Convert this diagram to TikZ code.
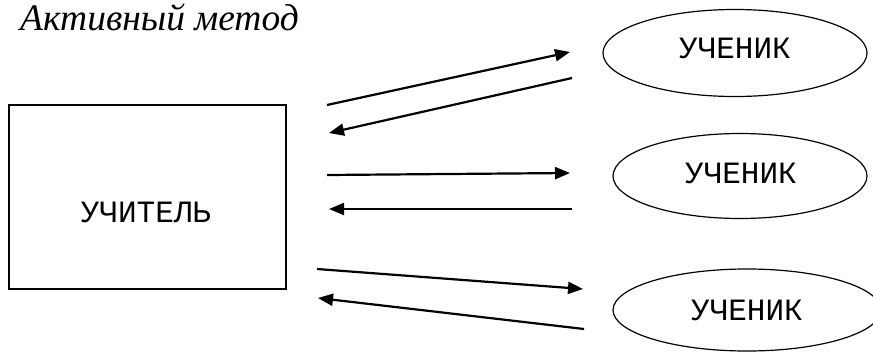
\documentclass[tikz,border=0pt]{standalone}
\usepackage{fontspec}
\setmainfont{Liberation Serif}
\newfontfamily\monofont{Liberation Mono}
\usetikzlibrary{shapes.geometric,arrows.meta}
\tikzset{
  teacher/.style={draw, line width=1.8pt, minimum width=277pt, minimum height=184pt, inner sep=0pt},
  pupil/.style={draw, ellipse, line width=1.2pt, inner sep=0pt},
  label/.style={font=\monofont\fontsize{31}{31}\selectfont, inner sep=0pt},
  link/.style={line width=2.2pt, -{Triangle[length=15pt,width=12pt]}},
  heading/.style={font=\itshape\fontsize{37.5}{37.5}\selectfont, anchor=base west, inner sep=0pt}
}
\begin{document}
\begin{tikzpicture}[x=1pt,y=-1pt]
\useasboundingbox (0,0) rectangle (873,351);
\clip (0,0) rectangle (873,351);
\node[heading] (title) at (20,30) {Активный метод};
\node[teacher] (t) at (147.5,197) {};
\node[label] (tl) at (146,212) {УЧИТЕЛЬ};
\node[pupil, minimum width=264pt, minimum height=87pt] (p1) at (735,53) {};
\node[label] (p1t) at (735,48) {УЧЕНИК};
\node[pupil, minimum width=254pt, minimum height=85pt] (p2) at (740,176) {};
\node[label] (p2t) at (741,173) {УЧЕНИК};
\node[pupil, minimum width=268pt, minimum height=82pt] (p3) at (747,310) {};
\node[label] (p3t) at (747,310) {УЧЕНИК};
\coordinate (a1s) at (327,105); \coordinate (a1e) at (570,52);
\coordinate (a2s) at (572,78);  \coordinate (a2e) at (329,133);
\coordinate (a3s) at (327,175); \coordinate (a3e) at (570,173);
\coordinate (a4s) at (572,209); \coordinate (a4e) at (329,209);
\coordinate (a5s) at (317,269); \coordinate (a5e) at (583,289);
\coordinate (a6s) at (584,329); \coordinate (a6e) at (318,298);
\draw[link] (a1s) -- (a1e);
\draw[link] (a2s) -- (a2e);
\draw[link] (a3s) -- (a3e);
\draw[link] (a4s) -- (a4e);
\draw[link] (a5s) -- (a5e);
\draw[link] (a6s) -- (a6e);
\end{tikzpicture}
\end{document}
